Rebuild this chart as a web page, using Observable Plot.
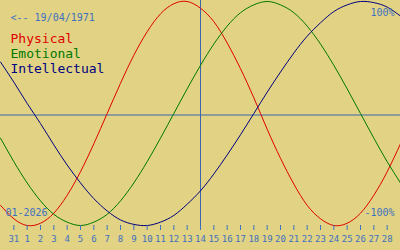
<!DOCTYPE html>
<html>
<head>
<meta charset="utf-8">
<script src="https://cdn.jsdelivr.net/npm/d3@7"></script>
<script src="https://cdn.jsdelivr.net/npm/@observablehq/plot@0.6"></script>
<style>
  html, body { margin: 0; padding: 0; background: #e1d383; }
  svg { display: block; }
</style>
</head>
<body>
<div id="chart"></div>
<script>
// Day index -1..29 (index 0 = 31 Dec 2025, index 1..28 = 1..28 Jan 2026)
const dayIndex = [-1,0,1,2,3,4,5,6,7,8,9,10,11,12,13,14,15,16,17,18,19,20,21,22,23,24,25,26,27,28,29];
const physical = [-82,-94,-100,-98,-89,-73,-52,-27,0,27,52,73,89,98,100,94,82,63,40,14,-14,-40,-63,-82,-94,-100,-98,-89,-73,-52,-27];
const emotional = [-22,-43,-62,-78,-90,-97,-100,-97,-90,-78,-62,-43,-22,0,22,43,62,78,90,97,100,97,90,78,62,43,22,0,-22,-43,-62];
const intellectual = [46,28,9,-9,-28,-46,-62,-76,-87,-95,-99,-100,-97,-91,-81,-69,-54,-37,-19,0,19,37,54,69,81,91,97,100,99,95,87];
const tickIndex = [0,1,2,3,4,5,6,7,8,9,10,11,12,13,14,15,16,17,18,19,20,21,22,23,24,25,26,27,28];
const tickLabels = ["31","1","2","3","4","5","6","7","8","9","10","11","12","13","14","15","16","17","18","19","20","21","22","23","24","25","26","27","28"];
const todayIndex = [14];
const seriesNames = ["Physical","Emotional","Intellectual"];
const birthLabel = "<-- 19/04/1971";
const monthLabel = "01-2026";
const topLabel = "100%";
const bottomLabel = "-100%";

const rows = (vals) => dayIndex.map((d, i) => ({d, v: vals[i]}));

const mono = "DejaVu Sans Mono, monospace";
const blueText = "#3f6fc0";

const chart = Plot.plot({
  width: 400,
  height: 250,
  marginTop: 1,
  marginBottom: 25,
  marginLeft: 0,
  marginRight: 0,
  style: {background: "#e1d383", color: blueText, fontFamily: mono},
  x: {domain: [-1, 29], axis: null},
  y: {domain: [-100, 100], axis: null},
  marks: [
    Plot.ruleY([0], {stroke: "#3a66b0", strokeWidth: 1, dy: 1.5}),
    Plot.ruleX(todayIndex, {stroke: "#3a66b0", strokeWidth: 1, insetTop: -1, insetBottom: -5}),
    Plot.line(rows(physical), {x: "d", y: "v", stroke: "#e00000", strokeWidth: 1, curve: "natural"}),
    Plot.line(rows(emotional), {x: "d", y: "v", stroke: "#007800", strokeWidth: 1, curve: "natural"}),
    Plot.line(rows(intellectual), {x: "d", y: "v", stroke: "#000080", strokeWidth: 1, curve: "natural"}),
    Plot.axisX({ticks: tickIndex, tickFormat: (i) => tickLabels[tickIndex.indexOf(i)], tickSize: 5, tickPadding: 5, fontSize: 9, label: null, stroke: blueText, fill: blueText, fontFamily: mono}),
    Plot.text([birthLabel], {frameAnchor: "top-left", textAnchor: "start", lineAnchor: "top", dx: 10, dy: 12, fontSize: 10, fill: blueText, fontFamily: mono}),
    Plot.text([seriesNames[0]], {frameAnchor: "top-left", textAnchor: "start", lineAnchor: "top", dx: 10, dy: 32, fontSize: 13, fill: "#e00000", fontFamily: mono}),
    Plot.text([seriesNames[1]], {frameAnchor: "top-left", textAnchor: "start", lineAnchor: "top", dx: 10, dy: 47, fontSize: 13, fill: "#007800", fontFamily: mono}),
    Plot.text([seriesNames[2]], {frameAnchor: "top-left", textAnchor: "start", lineAnchor: "top", dx: 10, dy: 62, fontSize: 13, fill: "#000080", fontFamily: mono}),
    Plot.text([topLabel], {frameAnchor: "top-right", textAnchor: "end", lineAnchor: "top", dx: -6, dy: 7, fontSize: 10, fill: blueText, fontFamily: mono}),
    Plot.text([bottomLabel], {frameAnchor: "top-right", textAnchor: "end", lineAnchor: "top", dx: -6, dy: 207, fontSize: 10, fill: blueText, fontFamily: mono}),
    Plot.text([monthLabel], {frameAnchor: "top-left", textAnchor: "start", lineAnchor: "top", dx: 5, dy: 207, fontSize: 10, fill: blueText, fontFamily: mono})
  ]
});
document.getElementById("chart").appendChild(chart);
</script>
</body>
</html>
